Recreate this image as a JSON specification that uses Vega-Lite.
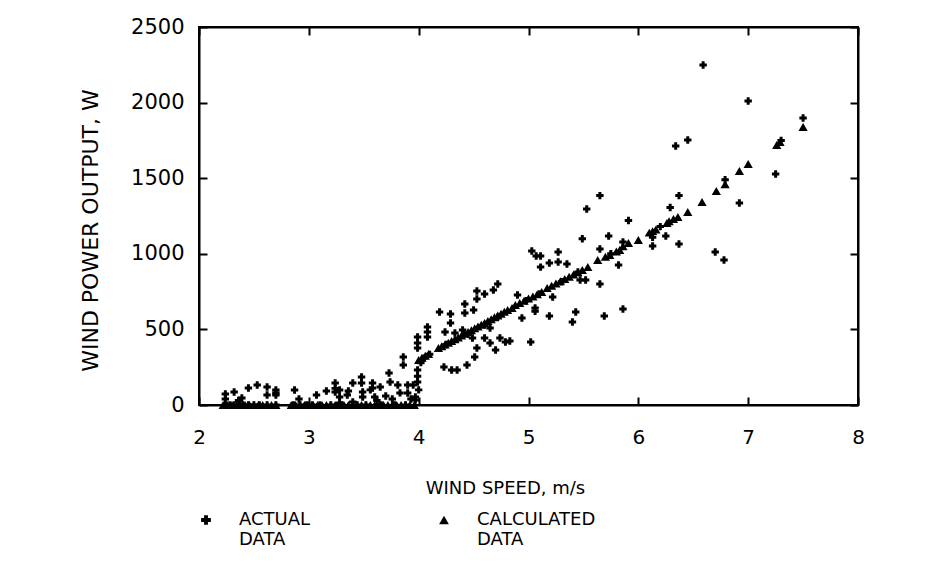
{
  "$schema": "https://vega.github.io/schema/vega-lite/v6.json",
  "width": 659,
  "height": 378,
  "autosize": {"type": "none"},
  "padding": {"left": 199, "top": 27, "right": 77, "bottom": 166},
  "background": "white",
  "config": {
    "font": "DejaVu Sans",
    "view": {"stroke": "black", "strokeWidth": 2},
    "axis": {"domainColor": "black", "domainWidth": 2, "tickColor": "black", "tickWidth": 2, "grid": false, "labelColor": "black", "titleColor": "black", "labelFont": "DejaVu Sans", "titleFont": "DejaVu Sans", "labelFontWeight": "normal", "titleFontWeight": "normal"},
    "legend": {"title": null, "orient": "none", "legendX": -2, "legendY": 484, "direction": "horizontal", "columns": 2, "columnPadding": 124,
      "labelFontSize": 18, "labelFont": "DejaVu Sans", "labelColor": "black", "labelOffset": 24, "labelBaseline": "middle",
      "symbolSize": 95, "symbolFillColor": "black", "symbolStrokeColor": "black", "labelLimit": 300}
  },
  "data": {
    "values": [
      {"series": "ACTUAL", "speed": 2.24, "power": 73},
      {"series": "ACTUAL", "speed": 2.24, "power": 40},
      {"series": "ACTUAL", "speed": 2.24, "power": 0},
      {"series": "ACTUAL", "speed": 2.28, "power": 0},
      {"series": "ACTUAL", "speed": 2.32, "power": 86},
      {"series": "ACTUAL", "speed": 2.32, "power": 0},
      {"series": "ACTUAL", "speed": 2.36, "power": 30},
      {"series": "ACTUAL", "speed": 2.39, "power": 46},
      {"series": "ACTUAL", "speed": 2.40, "power": 0},
      {"series": "ACTUAL", "speed": 2.45, "power": 112},
      {"series": "ACTUAL", "speed": 2.45, "power": 0},
      {"series": "ACTUAL", "speed": 2.50, "power": 0},
      {"series": "ACTUAL", "speed": 2.53, "power": 132},
      {"series": "ACTUAL", "speed": 2.55, "power": 0},
      {"series": "ACTUAL", "speed": 2.62, "power": 119},
      {"series": "ACTUAL", "speed": 2.62, "power": 66},
      {"series": "ACTUAL", "speed": 2.62, "power": 0},
      {"series": "ACTUAL", "speed": 2.70, "power": 99},
      {"series": "ACTUAL", "speed": 2.70, "power": 80},
      {"series": "ACTUAL", "speed": 2.70, "power": 66},
      {"series": "ACTUAL", "speed": 2.70, "power": 0},
      {"series": "ACTUAL", "speed": 2.87, "power": 99},
      {"series": "ACTUAL", "speed": 2.86, "power": 0},
      {"series": "ACTUAL", "speed": 2.91, "power": 40},
      {"series": "ACTUAL", "speed": 2.92, "power": 0},
      {"series": "ACTUAL", "speed": 2.98, "power": 0},
      {"series": "ACTUAL", "speed": 3.03, "power": 0},
      {"series": "ACTUAL", "speed": 3.07, "power": 66},
      {"series": "ACTUAL", "speed": 3.10, "power": 0},
      {"series": "ACTUAL", "speed": 3.16, "power": 93},
      {"series": "ACTUAL", "speed": 3.20, "power": 0},
      {"series": "ACTUAL", "speed": 3.24, "power": 145},
      {"series": "ACTUAL", "speed": 3.24, "power": 110},
      {"series": "ACTUAL", "speed": 3.24, "power": 86},
      {"series": "ACTUAL", "speed": 3.28, "power": 99},
      {"series": "ACTUAL", "speed": 3.28, "power": 53},
      {"series": "ACTUAL", "speed": 3.28, "power": 13},
      {"series": "ACTUAL", "speed": 3.30, "power": 0},
      {"series": "ACTUAL", "speed": 3.35, "power": 66},
      {"series": "ACTUAL", "speed": 3.36, "power": 93},
      {"series": "ACTUAL", "speed": 3.40, "power": 145},
      {"series": "ACTUAL", "speed": 3.40, "power": 20},
      {"series": "ACTUAL", "speed": 3.44, "power": 0},
      {"series": "ACTUAL", "speed": 3.48, "power": 185},
      {"series": "ACTUAL", "speed": 3.48, "power": 145},
      {"series": "ACTUAL", "speed": 3.49, "power": 86},
      {"series": "ACTUAL", "speed": 3.49, "power": 53},
      {"series": "ACTUAL", "speed": 3.52, "power": 0},
      {"series": "ACTUAL", "speed": 3.56, "power": 100},
      {"series": "ACTUAL", "speed": 3.58, "power": 145},
      {"series": "ACTUAL", "speed": 3.58, "power": 112},
      {"series": "ACTUAL", "speed": 3.60, "power": 53},
      {"series": "ACTUAL", "speed": 3.62, "power": 30},
      {"series": "ACTUAL", "speed": 3.65, "power": 119},
      {"series": "ACTUAL", "speed": 3.66, "power": 0},
      {"series": "ACTUAL", "speed": 3.70, "power": 60},
      {"series": "ACTUAL", "speed": 3.73, "power": 212},
      {"series": "ACTUAL", "speed": 3.74, "power": 152},
      {"series": "ACTUAL", "speed": 3.76, "power": 40},
      {"series": "ACTUAL", "speed": 3.78, "power": 0},
      {"series": "ACTUAL", "speed": 3.81, "power": 132},
      {"series": "ACTUAL", "speed": 3.83, "power": 80},
      {"series": "ACTUAL", "speed": 3.86, "power": 317},
      {"series": "ACTUAL", "speed": 3.86, "power": 265},
      {"series": "ACTUAL", "speed": 3.88, "power": 0},
      {"series": "ACTUAL", "speed": 3.90, "power": 132},
      {"series": "ACTUAL", "speed": 3.90, "power": 79},
      {"series": "ACTUAL", "speed": 3.93, "power": 40},
      {"series": "ACTUAL", "speed": 3.95, "power": 132},
      {"series": "ACTUAL", "speed": 3.97, "power": 53},
      {"series": "ACTUAL", "speed": 3.97, "power": 33},
      {"series": "ACTUAL", "speed": 3.99, "power": 450},
      {"series": "ACTUAL", "speed": 3.99, "power": 410},
      {"series": "ACTUAL", "speed": 3.99, "power": 377},
      {"series": "ACTUAL", "speed": 3.99, "power": 231},
      {"series": "ACTUAL", "speed": 3.99, "power": 190},
      {"series": "ACTUAL", "speed": 3.99, "power": 152},
      {"series": "ACTUAL", "speed": 4.00, "power": 100},
      {"series": "ACTUAL", "speed": 4.02, "power": 280},
      {"series": "ACTUAL", "speed": 4.05, "power": 310},
      {"series": "ACTUAL", "speed": 4.08, "power": 516},
      {"series": "ACTUAL", "speed": 4.08, "power": 483},
      {"series": "ACTUAL", "speed": 4.08, "power": 450},
      {"series": "ACTUAL", "speed": 4.10, "power": 335},
      {"series": "ACTUAL", "speed": 4.19, "power": 615},
      {"series": "ACTUAL", "speed": 4.29, "power": 602},
      {"series": "ACTUAL", "speed": 4.29, "power": 542},
      {"series": "ACTUAL", "speed": 4.24, "power": 483},
      {"series": "ACTUAL", "speed": 4.33, "power": 476},
      {"series": "ACTUAL", "speed": 4.40, "power": 496},
      {"series": "ACTUAL", "speed": 4.42, "power": 668},
      {"series": "ACTUAL", "speed": 4.42, "power": 608},
      {"series": "ACTUAL", "speed": 4.50, "power": 628},
      {"series": "ACTUAL", "speed": 4.53, "power": 754},
      {"series": "ACTUAL", "speed": 4.53, "power": 701},
      {"series": "ACTUAL", "speed": 4.60, "power": 734},
      {"series": "ACTUAL", "speed": 4.68, "power": 761},
      {"series": "ACTUAL", "speed": 4.72, "power": 800},
      {"series": "ACTUAL", "speed": 4.65, "power": 509},
      {"series": "ACTUAL", "speed": 4.49, "power": 443},
      {"series": "ACTUAL", "speed": 4.60, "power": 443},
      {"series": "ACTUAL", "speed": 4.65, "power": 410},
      {"series": "ACTUAL", "speed": 4.70, "power": 364},
      {"series": "ACTUAL", "speed": 4.74, "power": 443},
      {"series": "ACTUAL", "speed": 4.79, "power": 417},
      {"series": "ACTUAL", "speed": 4.83, "power": 423},
      {"series": "ACTUAL", "speed": 4.53, "power": 377},
      {"series": "ACTUAL", "speed": 4.51, "power": 317},
      {"series": "ACTUAL", "speed": 4.44, "power": 265},
      {"series": "ACTUAL", "speed": 4.35, "power": 231},
      {"series": "ACTUAL", "speed": 4.30, "power": 231},
      {"series": "ACTUAL", "speed": 4.23, "power": 251},
      {"series": "ACTUAL", "speed": 4.90, "power": 727},
      {"series": "ACTUAL", "speed": 5.02, "power": 417},
      {"series": "ACTUAL", "speed": 4.94, "power": 575},
      {"series": "ACTUAL", "speed": 5.06, "power": 641},
      {"series": "ACTUAL", "speed": 5.06, "power": 620},
      {"series": "ACTUAL", "speed": 5.03, "power": 1018},
      {"series": "ACTUAL", "speed": 5.07, "power": 985},
      {"series": "ACTUAL", "speed": 5.11, "power": 985},
      {"series": "ACTUAL", "speed": 5.11, "power": 912},
      {"series": "ACTUAL", "speed": 5.19, "power": 939},
      {"series": "ACTUAL", "speed": 5.27, "power": 1012},
      {"series": "ACTUAL", "speed": 5.27, "power": 946},
      {"series": "ACTUAL", "speed": 5.35, "power": 932},
      {"series": "ACTUAL", "speed": 5.22, "power": 714},
      {"series": "ACTUAL", "speed": 5.19, "power": 589},
      {"series": "ACTUAL", "speed": 5.40, "power": 549},
      {"series": "ACTUAL", "speed": 5.43, "power": 615},
      {"series": "ACTUAL", "speed": 5.47, "power": 827},
      {"series": "ACTUAL", "speed": 5.52, "power": 827},
      {"series": "ACTUAL", "speed": 5.49, "power": 1100},
      {"series": "ACTUAL", "speed": 5.53, "power": 1296},
      {"series": "ACTUAL", "speed": 5.65, "power": 1032},
      {"series": "ACTUAL", "speed": 5.65, "power": 800},
      {"series": "ACTUAL", "speed": 5.69, "power": 589},
      {"series": "ACTUAL", "speed": 5.65, "power": 1385},
      {"series": "ACTUAL", "speed": 5.73, "power": 1118},
      {"series": "ACTUAL", "speed": 5.82, "power": 926},
      {"series": "ACTUAL", "speed": 5.86, "power": 1078},
      {"series": "ACTUAL", "speed": 5.86, "power": 635},
      {"series": "ACTUAL", "speed": 5.91, "power": 1220},
      {"series": "ACTUAL", "speed": 6.13, "power": 1052},
      {"series": "ACTUAL", "speed": 6.25, "power": 1118},
      {"series": "ACTUAL", "speed": 6.29, "power": 1306},
      {"series": "ACTUAL", "speed": 6.37, "power": 1065},
      {"series": "ACTUAL", "speed": 6.37, "power": 1385},
      {"series": "ACTUAL", "speed": 6.34, "power": 1713},
      {"series": "ACTUAL", "speed": 6.45, "power": 1753},
      {"series": "ACTUAL", "speed": 6.59, "power": 2249},
      {"series": "ACTUAL", "speed": 6.70, "power": 1012},
      {"series": "ACTUAL", "speed": 6.78, "power": 959},
      {"series": "ACTUAL", "speed": 6.92, "power": 1336},
      {"series": "ACTUAL", "speed": 7.00, "power": 2011},
      {"series": "ACTUAL", "speed": 7.25, "power": 1528},
      {"series": "ACTUAL", "speed": 7.50, "power": 1898},
      {"series": "ACTUAL", "speed": 6.79, "power": 1490},
      {"series": "ACTUAL", "speed": 7.30, "power": 1750},
      {"series": "ACTUAL", "speed": 4.25, "power": 400},
      {"series": "ACTUAL", "speed": 4.45, "power": 470},
      {"series": "ACTUAL", "speed": 4.60, "power": 530},
      {"series": "ACTUAL", "speed": 4.72, "power": 580},
      {"series": "ACTUAL", "speed": 4.98, "power": 690},
      {"series": "ACTUAL", "speed": 5.10, "power": 735},
      {"series": "ACTUAL", "speed": 5.30, "power": 815},
      {"series": "ACTUAL", "speed": 5.45, "power": 880},
      {"series": "ACTUAL", "speed": 5.75, "power": 1000},
      {"series": "ACTUAL", "speed": 6.13, "power": 1110},
      {"series": "ACTUAL", "speed": 6.20, "power": 1180},
      {"series": "CALCULATED", "speed": 2.22, "power": 0},
      {"series": "CALCULATED", "speed": 2.26, "power": 0},
      {"series": "CALCULATED", "speed": 2.30, "power": 0},
      {"series": "CALCULATED", "speed": 2.34, "power": 0},
      {"series": "CALCULATED", "speed": 2.38, "power": 0},
      {"series": "CALCULATED", "speed": 2.42, "power": 0},
      {"series": "CALCULATED", "speed": 2.46, "power": 0},
      {"series": "CALCULATED", "speed": 2.50, "power": 0},
      {"series": "CALCULATED", "speed": 2.54, "power": 0},
      {"series": "CALCULATED", "speed": 2.58, "power": 0},
      {"series": "CALCULATED", "speed": 2.62, "power": 0},
      {"series": "CALCULATED", "speed": 2.66, "power": 0},
      {"series": "CALCULATED", "speed": 2.70, "power": 0},
      {"series": "CALCULATED", "speed": 2.84, "power": 0},
      {"series": "CALCULATED", "speed": 2.88, "power": 0},
      {"series": "CALCULATED", "speed": 2.92, "power": 0},
      {"series": "CALCULATED", "speed": 2.96, "power": 0},
      {"series": "CALCULATED", "speed": 3.00, "power": 0},
      {"series": "CALCULATED", "speed": 3.04, "power": 0},
      {"series": "CALCULATED", "speed": 3.08, "power": 0},
      {"series": "CALCULATED", "speed": 3.12, "power": 0},
      {"series": "CALCULATED", "speed": 3.16, "power": 0},
      {"series": "CALCULATED", "speed": 3.20, "power": 0},
      {"series": "CALCULATED", "speed": 3.24, "power": 0},
      {"series": "CALCULATED", "speed": 3.28, "power": 0},
      {"series": "CALCULATED", "speed": 3.32, "power": 0},
      {"series": "CALCULATED", "speed": 3.36, "power": 0},
      {"series": "CALCULATED", "speed": 3.40, "power": 0},
      {"series": "CALCULATED", "speed": 3.44, "power": 0},
      {"series": "CALCULATED", "speed": 3.48, "power": 0},
      {"series": "CALCULATED", "speed": 3.52, "power": 0},
      {"series": "CALCULATED", "speed": 3.56, "power": 0},
      {"series": "CALCULATED", "speed": 3.60, "power": 0},
      {"series": "CALCULATED", "speed": 3.64, "power": 0},
      {"series": "CALCULATED", "speed": 3.68, "power": 0},
      {"series": "CALCULATED", "speed": 3.72, "power": 0},
      {"series": "CALCULATED", "speed": 3.76, "power": 0},
      {"series": "CALCULATED", "speed": 3.80, "power": 0},
      {"series": "CALCULATED", "speed": 3.84, "power": 0},
      {"series": "CALCULATED", "speed": 3.88, "power": 0},
      {"series": "CALCULATED", "speed": 3.92, "power": 0},
      {"series": "CALCULATED", "speed": 3.96, "power": 0},
      {"series": "CALCULATED", "speed": 4.00, "power": 298},
      {"series": "CALCULATED", "speed": 4.03, "power": 312},
      {"series": "CALCULATED", "speed": 4.06, "power": 326},
      {"series": "CALCULATED", "speed": 4.09, "power": 338},
      {"series": "CALCULATED", "speed": 4.18, "power": 377},
      {"series": "CALCULATED", "speed": 4.21, "power": 388},
      {"series": "CALCULATED", "speed": 4.24, "power": 400},
      {"series": "CALCULATED", "speed": 4.27, "power": 411},
      {"series": "CALCULATED", "speed": 4.30, "power": 423},
      {"series": "CALCULATED", "speed": 4.33, "power": 435},
      {"series": "CALCULATED", "speed": 4.36, "power": 447},
      {"series": "CALCULATED", "speed": 4.39, "power": 459},
      {"series": "CALCULATED", "speed": 4.42, "power": 471},
      {"series": "CALCULATED", "speed": 4.45, "power": 483},
      {"series": "CALCULATED", "speed": 4.48, "power": 495},
      {"series": "CALCULATED", "speed": 4.51, "power": 507},
      {"series": "CALCULATED", "speed": 4.54, "power": 519},
      {"series": "CALCULATED", "speed": 4.57, "power": 531},
      {"series": "CALCULATED", "speed": 4.60, "power": 543},
      {"series": "CALCULATED", "speed": 4.63, "power": 555},
      {"series": "CALCULATED", "speed": 4.66, "power": 567},
      {"series": "CALCULATED", "speed": 4.69, "power": 580},
      {"series": "CALCULATED", "speed": 4.72, "power": 592},
      {"series": "CALCULATED", "speed": 4.75, "power": 604},
      {"series": "CALCULATED", "speed": 4.78, "power": 616},
      {"series": "CALCULATED", "speed": 4.81, "power": 628},
      {"series": "CALCULATED", "speed": 4.85, "power": 641},
      {"series": "CALCULATED", "speed": 4.88, "power": 661},
      {"series": "CALCULATED", "speed": 4.92, "power": 675},
      {"series": "CALCULATED", "speed": 4.96, "power": 690},
      {"series": "CALCULATED", "speed": 5.00, "power": 705},
      {"series": "CALCULATED", "speed": 5.04, "power": 718},
      {"series": "CALCULATED", "speed": 5.08, "power": 733},
      {"series": "CALCULATED", "speed": 5.12, "power": 747},
      {"series": "CALCULATED", "speed": 5.17, "power": 774},
      {"series": "CALCULATED", "speed": 5.21, "power": 789},
      {"series": "CALCULATED", "speed": 5.25, "power": 803},
      {"series": "CALCULATED", "speed": 5.29, "power": 818},
      {"series": "CALCULATED", "speed": 5.33, "power": 833},
      {"series": "CALCULATED", "speed": 5.37, "power": 848},
      {"series": "CALCULATED", "speed": 5.41, "power": 863},
      {"series": "CALCULATED", "speed": 5.45, "power": 878},
      {"series": "CALCULATED", "speed": 5.49, "power": 893},
      {"series": "CALCULATED", "speed": 5.54, "power": 913},
      {"series": "CALCULATED", "speed": 5.63, "power": 959},
      {"series": "CALCULATED", "speed": 5.70, "power": 980},
      {"series": "CALCULATED", "speed": 5.74, "power": 992},
      {"series": "CALCULATED", "speed": 5.80, "power": 1015},
      {"series": "CALCULATED", "speed": 5.83, "power": 1025},
      {"series": "CALCULATED", "speed": 5.86, "power": 1050},
      {"series": "CALCULATED", "speed": 5.91, "power": 1071},
      {"series": "CALCULATED", "speed": 6.00, "power": 1091},
      {"series": "CALCULATED", "speed": 6.10, "power": 1140},
      {"series": "CALCULATED", "speed": 6.13, "power": 1150},
      {"series": "CALCULATED", "speed": 6.16, "power": 1160},
      {"series": "CALCULATED", "speed": 6.26, "power": 1204},
      {"series": "CALCULATED", "speed": 6.28, "power": 1215},
      {"series": "CALCULATED", "speed": 6.32, "power": 1230},
      {"series": "CALCULATED", "speed": 6.36, "power": 1243},
      {"series": "CALCULATED", "speed": 6.45, "power": 1276},
      {"series": "CALCULATED", "speed": 6.58, "power": 1343},
      {"series": "CALCULATED", "speed": 6.71, "power": 1415},
      {"series": "CALCULATED", "speed": 6.79, "power": 1460},
      {"series": "CALCULATED", "speed": 6.92, "power": 1548},
      {"series": "CALCULATED", "speed": 7.00, "power": 1594},
      {"series": "CALCULATED", "speed": 7.26, "power": 1720},
      {"series": "CALCULATED", "speed": 7.29, "power": 1739},
      {"series": "CALCULATED", "speed": 7.50, "power": 1839}
    ]
  },
  "layer": [
    {
      "transform": [{"filter": "datum.series == 'ACTUAL'"}],
      "mark": {"type": "point", "filled": true, "color": "black", "opacity": 1, "size": 55},
      "encoding": {
        "x": {"field": "speed", "type": "quantitative", "scale": {"domain": [2, 8], "nice": false, "zero": false},
          "axis": {"orient": "bottom", "values": [2, 3, 4, 5, 6, 7, 8], "format": "d", "tickSize": -8, "labelPadding": 30, "labelFontSize": 20, "labelFlush": false,
            "title": "WIND SPEED, m/s", "titleFontSize": 18, "titleX": 306, "titleY": 83, "titleBaseline": "middle", "titleAlign": "center"}},
        "y": {"field": "power", "type": "quantitative", "scale": {"domain": [0, 2500], "nice": false},
          "axis": {"orient": "left", "values": [0, 500, 1000, 1500, 2000, 2500], "format": "d", "tickSize": -8, "labelPadding": 23, "labelFontSize": 21, "labelFlush": false,
            "title": "WIND POWER OUTPUT, W", "titleFontSize": 22, "titleX": -109, "titleY": 203, "titleBaseline": "middle", "titleAlign": "center", "titleAngle": 270}},
        "shape": {"field": "series", "type": "nominal",
          "scale": {"domain": ["ACTUAL", "CALCULATED"], "range": ["cross", "triangle-up"]},
          "legend": {"labelExpr": "datum.label == 'ACTUAL' ? ['ACTUAL', 'DATA'] : ['CALCULATED', 'DATA']"}}
      }
    },
    {
      "transform": [{"filter": "datum.series == 'CALCULATED'"}],
      "mark": {"type": "point", "filled": true, "color": "black", "opacity": 1, "size": 85},
      "encoding": {
        "x": {"field": "speed", "type": "quantitative", "axis": {"orient": "top", "values": [2, 3, 4, 5, 6, 7, 8], "tickSize": -8, "labels": false, "title": null}},
        "y": {"field": "power", "type": "quantitative", "axis": {"orient": "right", "values": [0, 500, 1000, 1500, 2000, 2500], "tickSize": -8, "labels": false, "title": null}},
        "shape": {"field": "series", "type": "nominal",
          "scale": {"domain": ["ACTUAL", "CALCULATED"], "range": ["cross", "triangle-up"]},
          "legend": {"labelExpr": "datum.label == 'ACTUAL' ? ['ACTUAL', 'DATA'] : ['CALCULATED', 'DATA']"}}
      }
    }
  ],
  "resolve": {"axis": {"x": "independent", "y": "independent"}}
}
